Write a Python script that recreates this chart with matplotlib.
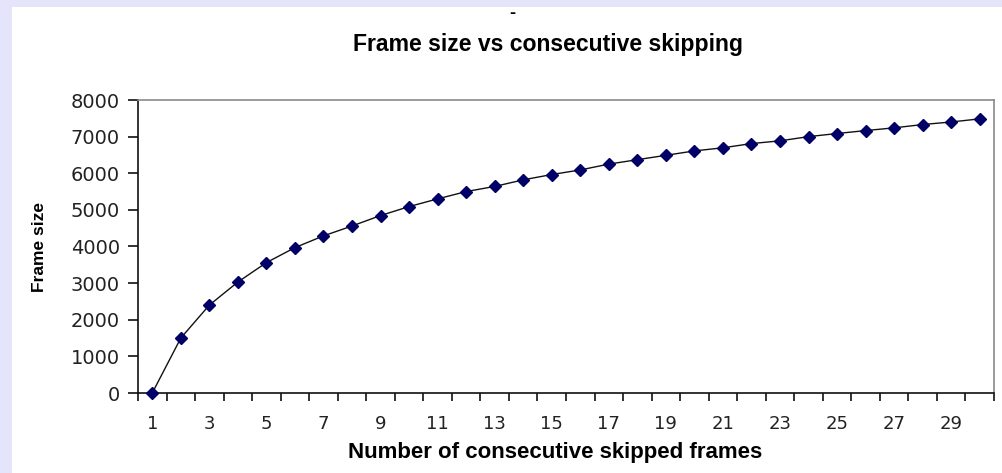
"""
Frame size against the number of consecutive skipped frames.
"""

import matplotlib.pyplot as plt
from matplotlib.patches import Rectangle
from matplotlib.ticker import FixedLocator

# Number of consecutive skipped frames (category axis)
skipped = list(range(1, 31))

# Frame size for each run of skipped frames
frame_size = [
    0, 1500, 2400, 3030, 3560, 3970, 4290, 4560, 4845, 5090,
    5300, 5500, 5640, 5820, 5965, 6090, 6250, 6370, 6490, 6610,
    6695, 6810, 6885, 7000, 7085, 7165, 7240, 7330, 7400, 7485,
]

x_tick_labels = [str(n) for n in skipped[::2]]
y_ticks = list(range(0, 8001, 1000))

LABEL_FONT = ["Liberation Sans", "DejaVu Sans"]
LAVENDER = "#e4e4fb"

fig = plt.figure(figsize=(10.02, 4.73), dpi=100, facecolor="white")

# Lavender frame strips along the top and left edges
fig.patches.append(Rectangle((0, 1 - 7 / 473), 1, 7 / 473, transform=fig.transFigure,
                             facecolor=LAVENDER, edgecolor="none", zorder=0))
fig.patches.append(Rectangle((0, 0), 12 / 1002, 1, transform=fig.transFigure,
                             facecolor=LAVENDER, edgecolor="none", zorder=0))

ax = fig.add_axes([138 / 1002, 80 / 473, 856 / 1002, 293 / 473])

ax.plot(skipped, frame_size, color="#111111", linewidth=1.0,
        marker="D", markersize=6.5, markerfacecolor="#000066",
        markeredgecolor="#000066", clip_on=False, zorder=3)

ax.set_xlim(0.5, 30.5)
ax.set_ylim(0, 8000)

# Category axis: labels on every other category, ticks between categories
ax.set_xticks(skipped[::2])
ax.set_xticklabels(x_tick_labels)
ax.xaxis.set_minor_locator(FixedLocator([i + 0.5 for i in range(0, 31)]))
ax.tick_params(axis="x", which="major", length=0, pad=16, labelsize=13,
               labelcolor="#222222")
ax.tick_params(axis="x", which="minor", length=6, width=1.2, direction="out",
               color="#111111")

ax.set_yticks(y_ticks)
ax.tick_params(axis="y", length=7, width=1.2, direction="out", color="#111111",
               labelsize=14, labelcolor="#222222", pad=6)

for side in ("left", "bottom"):
    ax.spines[side].set_color("#111111")
    ax.spines[side].set_linewidth(1.2)
for side in ("top", "right"):
    ax.spines[side].set_color("#8a8a8a")
    ax.spines[side].set_linewidth(1.2)

fig.text(548 / 1002, 1 - 45 / 473, "Frame size vs consecutive skipping",
         ha="center", va="center", fontsize=16.6, fontweight="bold",
         family=LABEL_FONT)
fig.text(512 / 1002, 1 - 14 / 473, "-", ha="center", va="center", fontsize=13,
         fontweight="bold", family=LABEL_FONT)

fig.text(40 / 1002, 1 - 247 / 473, "Frame size", rotation=90,
         ha="center", va="center", fontsize=12.5, fontweight="bold", family=LABEL_FONT)
fig.text(555 / 1002, 1 - 452 / 473, "Number of consecutive skipped frames",
         ha="center", va="center", fontsize=16, fontweight="bold", family=LABEL_FONT)

fig.savefig("out.png", dpi=100, facecolor="white")
